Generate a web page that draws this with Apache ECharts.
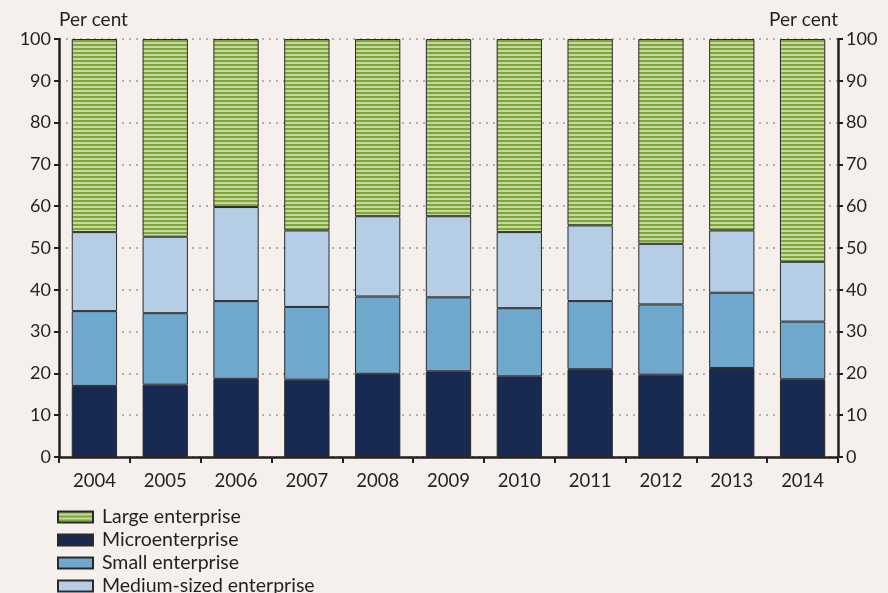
<!DOCTYPE html>
<html><head><meta charset="utf-8">
<script src="https://cdn.jsdelivr.net/npm/echarts@6/dist/echarts.min.js"></script>
<style>html,body{margin:0;padding:0;background:#f6f0ed;}#c{width:888px;height:593px;}</style>
</head><body><div id="c"></div>
<script>
var years = ['2004','2005','2006','2007','2008','2009','2010','2011','2012','2013','2014'];
var micro  = [17.0, 17.3, 18.7, 18.5, 19.9, 20.5, 19.3, 21.0, 19.7, 21.3, 18.6];
var small  = [17.9, 17.1, 18.6, 17.4, 18.5, 17.7, 16.3, 16.3, 16.8, 18.0, 13.8];
var medium = [18.9, 18.3, 22.5, 18.3, 19.2, 19.4, 18.2, 18.1, 14.5, 14.9, 14.3];
var large  = [46.2, 47.3, 40.2, 45.8, 42.4, 42.4, 46.2, 44.6, 49.0, 45.8, 53.3];
var legendOrder = ['Large enterprise','Microenterprise','Small enterprise','Medium-sized enterprise'];

var cv = document.createElement('canvas');
cv.width = 4; cv.height = 4;
var cx = cv.getContext('2d');
cx.fillStyle = '#c4d99e'; cx.fillRect(0,0,4,4);
cx.fillStyle = '#7fa53b'; cx.fillRect(0,0,4,2);
var stripe = {image: cv, repeat: 'repeat'};

var font = 'Lato, "Open Sans", sans-serif';
var txt = '#231f20';
var border = {borderColor:'#2a2a2a', borderWidth:1};

function yAx(pos){
  return {
    type:'value', min:0, max:100, interval:10, position:pos,
    name:'Per cent', nameLocation:'end', nameGap:10,
    nameTextStyle:{color:txt, fontSize:19, fontFamily:font, align: pos==='left'?'left':'right'},
    axisLine:{show:true, lineStyle:{color:txt, width:2.5}},
    axisTick:{show:true, length:5, lineStyle:{color:txt, width:2}},
    axisLabel:{color:txt, fontSize:18, fontFamily:font, margin:8},
    splitLine:{show: pos==='left', lineStyle:{color:'#9a9a9a', type:[2,5], width:1.5}}
  };
}

var legends = legendOrder.map(function(n, i){
  return {
    orient:'vertical', left:57, top:507 + i*23, icon:'rect', itemWidth:35, itemHeight:11,
    padding:0,
    textStyle:{color:txt, fontSize:19.5, fontFamily:font, padding:[0,0,0,4]},
    data:[n]
  };
});

var chart = echarts.init(document.getElementById('c'));
chart.setOption({
  backgroundColor:'#f6f0ed',
  animation:false,
  grid:{left:59, right:50, top:39, bottom:136},
  legend: legends,
  xAxis:{
    type:'category', data:years, boundaryGap:true,
    axisLine:{lineStyle:{color:txt, width:2.5}},
    axisTick:{show:true, length:6, alignWithLabel:false, lineStyle:{color:txt, width:2}},
    axisLabel:{color:txt, fontSize:18.5, fontFamily:font, margin:15}
  },
  yAxis:[yAx('left'), yAx('right')],
  series:[
    {name:'Microenterprise', type:'bar', stack:'a', data:micro, barWidth:'64%', itemStyle:Object.assign({color:'#182a52'},border)},
    {name:'Small enterprise', type:'bar', stack:'a', data:small, itemStyle:Object.assign({color:'#6fa8cc'},border)},
    {name:'Medium-sized enterprise', type:'bar', stack:'a', data:medium, itemStyle:Object.assign({color:'#b5cde5'},border)},
    {name:'Large enterprise', type:'bar', stack:'a', data:large, itemStyle:Object.assign({color:stripe},border)}
  ]
});
</script></body></html>
